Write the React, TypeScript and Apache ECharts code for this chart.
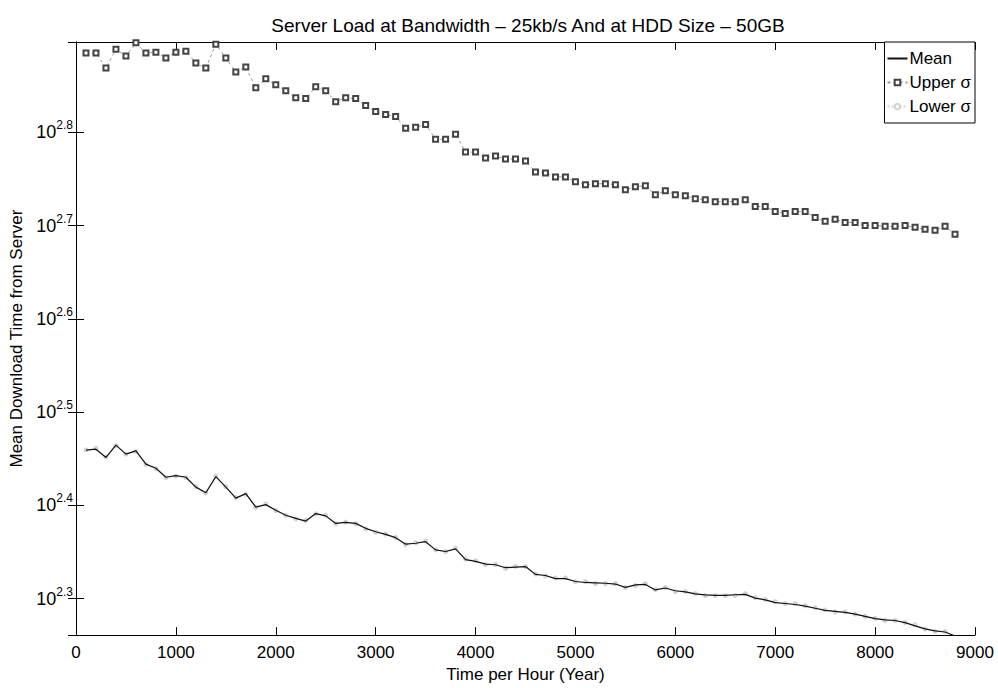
import React, { useEffect, useRef } from 'react';
import * as echarts from 'echarts';

const FONT = '"Liberation Sans", Arial, Helvetica, sans-serif';

const titleText = 'Server Load at Bandwidth – 25kb/s And at HDD Size – 50GB';
const xAxisTitle = 'Time per Hour (Year)';
const yAxisTitle = 'Mean Download Time from Server';
const seriesNames = ['Mean', 'Upper σ', 'Lower σ'];

// x positions (hours)
const hours = [
  100, 200, 300, 400, 500, 600, 700, 800, 900, 1000,
  1100, 1200, 1300, 1400, 1500, 1600, 1700, 1800, 1900, 2000,
  2100, 2200, 2300, 2400, 2500, 2600, 2700, 2800, 2900, 3000,
  3100, 3200, 3300, 3400, 3500, 3600, 3700, 3800, 3900, 4000,
  4100, 4200, 4300, 4400, 4500, 4600, 4700, 4800, 4900, 5000,
  5100, 5200, 5300, 5400, 5500, 5600, 5700, 5800, 5900, 6000,
  6100, 6200, 6300, 6400, 6500, 6600, 6700, 6800, 6900, 7000,
  7100, 7200, 7300, 7400, 7500, 7600, 7700, 7800, 7900, 8000,
  8100, 8200, 8300, 8400, 8500, 8600, 8700, 8800,
];

const meanTime = [
  287.8, 288.5, 282.7, 291.4, 285.0, 287.3, 278.1, 275.2, 269.2, 270.3,
  269.2, 262.7, 259.1, 269.6, 262.7, 255.7, 258.5, 250.1, 251.6, 248.1,
  245.1, 243.2, 241.6, 246.1, 244.7, 240.2, 240.8, 240.2, 237.3, 235.3,
  233.8, 231.9, 228.2, 228.7, 229.6, 225.0, 224.1, 225.6, 219.6, 218.7,
  217.2, 216.9, 215.3, 215.6, 215.9, 211.8, 211.2, 209.6, 209.6, 208.1,
  207.6, 207.4, 207.2, 206.8, 205.1, 206.4, 206.6, 203.8, 204.8, 203.4,
  202.8, 201.8, 201.3, 201.1, 201.1, 201.4, 201.6, 199.7, 198.9, 197.5,
  197.1, 196.6, 195.8, 194.8, 193.8, 193.3, 192.8, 192.0, 190.9, 189.9,
  189.3, 189.0, 188.0, 186.5, 185.1, 184.2, 183.7, 181.9,
];

const upperSigma = [
  767.3, 767.3, 739.6, 774.8, 761.6, 787.0, 767.3, 769.1, 757.9, 769.1,
  771.0, 748.7, 739.6, 784.3, 757.9, 732.4, 741.4, 704.3, 720.0, 709.5,
  699.2, 687.3, 685.7, 706.0, 699.2, 680.6, 687.3, 685.7, 674.0, 664.2,
  659.4, 656.1, 637.2, 638.7, 643.4, 620.3, 620.3, 627.9, 600.9, 600.9,
  592.1, 595.0, 590.7, 590.7, 587.8, 572.2, 570.8, 565.2, 565.2, 558.4,
  554.3, 555.7, 555.7, 554.3, 547.6, 551.6, 553.0, 540.9, 546.2, 540.9,
  539.6, 535.6, 534.3, 531.7, 531.7, 531.7, 534.3, 525.3, 525.3, 518.9,
  516.4, 518.9, 518.9, 511.3, 506.4, 508.9, 505.1, 505.1, 501.4, 501.4,
  500.2, 500.2, 501.4, 499.0, 496.5, 495.3, 500.2, 490.5,
];

const lowerSigma = [
  288, 289, 283, 291, 285, 287, 278, 275, 269, 270,
  269, 263, 259, 270, 263, 256, 258, 250, 252, 248,
  245, 243, 242, 246, 245, 240, 241, 240, 237, 235,
  234, 232, 228, 229, 230, 225, 224, 226, 220, 219,
  217, 217, 215, 216, 216, 212, 211, 210, 210, 208,
  208, 207, 207, 207, 205, 206, 207, 204, 205, 203,
  203, 202, 201, 201, 201, 201, 202, 200, 199, 198,
  197, 197, 196, 195, 194, 193, 193, 192, 191, 190,
  189, 189, 188, 187, 185, 184, 184, 182,
];

const xMin = 0;
const xMax = 9000;
const xStep = 1000;
const yMin = 182.3;
const yMax = 788.6;
const yLogBase = Math.pow(10, 0.1);

export default function App() {
  const ref = useRef<HTMLDivElement>(null);

  useEffect(() => {
    if (!ref.current) return;
    const chart = echarts.init(ref.current, undefined, { renderer: 'svg' });

    const pairs = (vals: number[]) => hours.map((h, i) => [h, vals[i]]);

    const yLabelFormatter = (v: number) => `{b|10}{s|${Math.log10(v).toFixed(1)}}`;

    const axisLineStyle = { color: '#000', width: 1 };

    const baseY = {
      type: 'log' as const,
      logBase: yLogBase,
      min: yMin,
      max: yMax,
      splitLine: { show: false },
      minorTick: { show: false },
      axisLine: { show: true, lineStyle: axisLineStyle },
      axisTick: { show: true, inside: true, length: 8, lineStyle: { color: '#000' } },
    };

    chart.setOption({
      animation: false,
      backgroundColor: '#fff',
      title: {
        text: titleText,
        left: 523,
        textAlign: 'center',
        top: 11,
        textStyle: { fontFamily: FONT, fontSize: 19, fontWeight: 'normal', color: '#000' },
      },
      grid: { left: 76, right: 23, top: 42, bottom: 47 },
      legend: {
        data: [
          { name: seriesNames[0], itemStyle: { opacity: 0 } },
          { name: seriesNames[1] },
          { name: seriesNames[2] },
        ],
        orient: 'vertical',
        right: 23,
        top: 42,
        itemWidth: 20,
        itemHeight: 7,
        itemGap: 7,
        padding: [8, 4, 8, 2],
        borderColor: '#000',
        borderWidth: 1,
        backgroundColor: '#fff',
        textStyle: { fontFamily: FONT, fontSize: 17, color: '#000', padding: [0, 0, 0, -3] },
      },
      xAxis: [
        {
          type: 'value',
          min: xMin,
          max: xMax,
          interval: xStep,
          name: xAxisTitle,
          nameLocation: 'middle',
          nameGap: 27,
          nameTextStyle: { fontFamily: FONT, fontSize: 17, color: '#000' },
          splitLine: { show: false },
          axisLine: { show: true, lineStyle: axisLineStyle },
          axisTick: { show: true, inside: true, length: 8, lineStyle: { color: '#000' } },
          axisLabel: {
            fontFamily: FONT,
            fontSize: 17,
            color: '#000',
            margin: 9,
            formatter: (v: number) => String(v),
          },
        },
        {
          type: 'value',
          position: 'top',
          min: xMin,
          max: xMax,
          interval: xStep,
          splitLine: { show: false },
          axisLine: { show: true, lineStyle: axisLineStyle },
          axisTick: { show: true, inside: true, length: 8, lineStyle: { color: '#000' } },
          axisLabel: { show: false },
        },
      ],
      yAxis: [
        {
          ...baseY,
          position: 'left',
          name: yAxisTitle,
          nameLocation: 'middle',
          nameGap: 50,
          nameTextStyle: { fontFamily: FONT, fontSize: 17, color: '#000' },
          axisLabel: {
            show: true,
            showMinLabel: false,
            showMaxLabel: false,
            margin: 3,
            formatter: yLabelFormatter,
            rich: {
              b: { fontFamily: FONT, fontSize: 18, color: '#000', lineHeight: 26 },
              s: { fontFamily: FONT, fontSize: 12, color: '#000', lineHeight: 9, verticalAlign: 'top' },
            },
          },
        },
        {
          ...baseY,
          position: 'right',
          axisLabel: { show: false },
        },
      ],
      series: [
        {
          name: seriesNames[2],
          type: 'line',
          data: pairs(lowerSigma),
          symbol: 'emptyCircle',
          symbolSize: 3,
          showSymbol: true,
          itemStyle: { color: '#d2d2d2' },
          lineStyle: { color: '#d6d6d6', width: 1, type: 'dotted' },
          z: 1,
        },
        {
          name: seriesNames[0],
          type: 'line',
          data: pairs(meanTime),
          symbol: 'none',
          itemStyle: { color: '#111' },
          lineStyle: { color: '#111', width: 1.2 },
          z: 3,
        },
        {
          name: seriesNames[1],
          type: 'line',
          data: pairs(upperSigma),
          symbol: 'emptyRect',
          symbolSize: 5,
          showSymbol: true,
          itemStyle: { color: '#444', borderWidth: 1 },
          lineStyle: { color: '#999', width: 1, type: [3, 3] },
          z: 2,
        },
      ],
    });

    return () => chart.dispose();
  }, []);

  return (
    <div
      ref={ref}
      style={{ position: 'fixed', left: 0, top: 0, width: 998, height: 688, background: '#fff' }}
    />
  );
}
